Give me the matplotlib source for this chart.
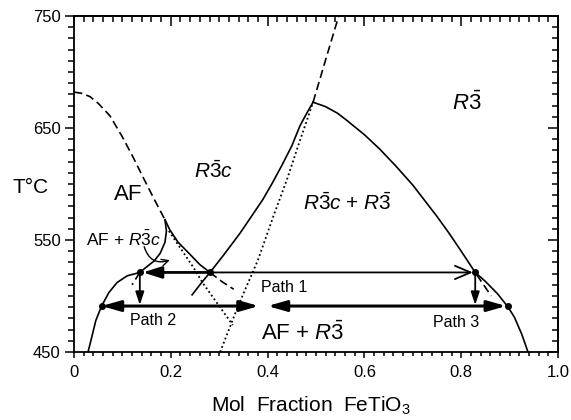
import numpy as np
import matplotlib
matplotlib.use("Agg")
import matplotlib.pyplot as plt
from matplotlib.ticker import MultipleLocator

plt.rcParams["font.family"] = ["Liberation Sans", "DejaVu Sans"]
plt.rcParams["mathtext.fontset"] = "custom"
plt.rcParams["mathtext.rm"] = "Liberation Sans"
plt.rcParams["mathtext.it"] = "Liberation Sans:italic"
plt.rcParams["mathtext.bf"] = "Liberation Sans:bold"

# --- curves (x = mol fraction FeTiO3, T in degC) ---
# AF ordering line: dashed part, solid part, dashed tail
af_dash_x = [0.0, 0.015, 0.033, 0.05, 0.074, 0.10, 0.122, 0.145, 0.165, 0.188]
af_dash_T = [682, 681, 678, 672, 661, 642, 624, 604, 587, 568]
af_solid_x = [0.188, 0.198, 0.215, 0.24, 0.26, 0.281]
af_solid_T = [568, 559, 548, 537, 528, 521]
af_tail_x = [0.281, 0.305, 0.33]
af_tail_T = [521, 513, 506]

# AF + R-3c field boundary and its dashed extension
afr_x = [0.188, 0.191, 0.188, 0.178, 0.165, 0.153, 0.136]
afr_T = [568, 558, 548, 538, 531, 527, 521]
afr_ext_x = [0.136, 0.12]
afr_ext_T = [521, 510]

# left solvus
solv_l_x = [0.029, 0.036, 0.045, 0.057, 0.072, 0.089, 0.11, 0.136]
solv_l_T = [450, 462, 478, 491, 503, 512, 518, 521]

# R-3c + R-3 field, left limb (solid) and ordering line above the peak (dashed)
rr_l_x = [0.244, 0.262, 0.281, 0.31, 0.343, 0.365, 0.39, 0.41, 0.43, 0.45, 0.467, 0.482, 0.494]
rr_l_T = [501, 511, 521, 537, 556, 570, 586, 601, 617, 634, 652, 664, 673]
order_x = [0.494, 0.52, 0.547]
order_T = [673, 711, 750]

# R-3c + R-3 field, right limb (solid), with dashed metastable piece
rr_r_x = [0.494, 0.52, 0.545, 0.563, 0.60, 0.632, 0.665, 0.70, 0.725, 0.75,
          0.775, 0.80, 0.829, 0.85, 0.875, 0.897, 0.91, 0.925, 0.938]
rr_r_T = [673, 669, 663, 657, 644, 631, 616, 599, 585, 571,
          556, 540, 521, 513, 502, 490, 481, 466, 450]
rr_ext_x = [0.832, 0.862]
rr_ext_T = [519, 500]

# dotted lines
dot1_x = [0.302, 0.34, 0.38, 0.411, 0.44, 0.467, 0.494]
dot1_T = [450, 492, 532, 570, 604, 639, 673]
dot2_x = [0.196, 0.246, 0.267, 0.328]
dot2_T = [558, 526, 511, 474]

# marked points
pts_x = [0.136, 0.057, 0.281, 0.829, 0.897]
pts_T = [521, 491, 521, 521, 491]

# paths
T_path1, T_path2 = 521, 491

fig = plt.figure(figsize=(5.71, 4.2), dpi=100)
ax = fig.add_axes([0.1296, 0.162, 0.8476, 0.800])
ax.set_xlim(0, 1.0)
ax.set_ylim(450, 750)

lw = 1.2
dash = (0, (5, 2.6))
dots = (0, (1, 1.5))
ax.plot(af_dash_x, af_dash_T, color="k", lw=lw, ls=dash)
ax.plot(af_solid_x, af_solid_T, color="k", lw=lw)
ax.plot(af_tail_x, af_tail_T, color="k", lw=lw, ls=dash)
ax.plot(afr_x, afr_T, color="k", lw=lw)
ax.plot(afr_ext_x, afr_ext_T, color="k", lw=lw, ls=dash)
ax.plot(solv_l_x, solv_l_T, color="k", lw=lw)
ax.plot(rr_l_x, rr_l_T, color="k", lw=lw)
ax.plot(order_x, order_T, color="k", lw=lw, ls=dash)
ax.plot(rr_r_x, rr_r_T, color="k", lw=lw)
ax.plot(rr_ext_x, rr_ext_T, color="k", lw=lw, ls=dash)
ax.plot(dot1_x, dot1_T, color="k", lw=1.3, ls=dots)
ax.plot(dot2_x, dot2_T, color="k", lw=1.3, ls=dots)
ax.plot(pts_x, pts_T, "o", color="k", ms=4, zorder=5)

def arrow(x0, y0, x1, y1, style="-|>", lw=2.0, ms=14):
    ax.annotate("", xy=(x1, y1), xytext=(x0, y0),
                arrowprops=dict(arrowstyle=style, lw=lw, color="k",
                                mutation_scale=ms, shrinkA=0, shrinkB=0))

filled = "-|>,head_length=0.7,head_width=0.22"
both = "<|-|>,head_length=0.7,head_width=0.2"
# Path 1
arrow(0.281, T_path1, 0.142, T_path1, filled, 2.0, 16)
arrow(0.281, T_path1, 0.824, T_path1, "->,head_length=0.7,head_width=0.3", 1.3, 16)
# vertical drops
arrow(0.136, T_path1, 0.136, T_path2 + 1, "-|>,head_length=0.6,head_width=0.2", 1.3, 13)
arrow(0.829, T_path1, 0.829, T_path2 + 1, "-|>,head_length=0.6,head_width=0.2", 1.3, 13)
# Path 2 and Path 3
arrow(0.057, T_path2, 0.382, T_path2, both, 2.2, 16)
arrow(0.40, T_path2, 0.893, T_path2, both, 2.2, 16)

# curved pointer for AF + R-3c
ax.annotate("", xy=(0.198, 532), xytext=(0.145, 544),
            arrowprops=dict(arrowstyle="->", lw=1.0, color="k",
                            connectionstyle="arc3,rad=0.5", mutation_scale=12,
                            shrinkA=0, shrinkB=0))

# labels
r3c = r"$\mathit{R\bar{3}c}$"
r3 = r"$\mathit{R\bar{3}}$"
ax.text(0.113, 586, "AF", fontsize=16, ha="center", va="baseline")
ax.text(0.289, 605, r3c, fontsize=15, ha="center", va="baseline")
ax.text(0.812, 666, r3, fontsize=16, ha="center", va="baseline")
ax.text(0.565, 577, r3c + " + " + r3, fontsize=15, ha="center", va="baseline")
ax.text(0.103, 545, "AF + " + r3c, fontsize=12.5, ha="center", va="baseline")
ax.text(0.434, 503.5, "Path 1", fontsize=11.5, ha="center", va="baseline")
ax.text(0.164, 474, "Path 2", fontsize=11.5, ha="center", va="baseline")
ax.text(0.79, 472.5, "Path 3", fontsize=11.5, ha="center", va="baseline")
ax.text(0.472, 461, "AF + " + r3, fontsize=16, ha="center", va="baseline")
ax.text(-0.089, 592, "T°C", fontsize=15, ha="center", va="baseline", clip_on=False)
ax.text(0.49, 396.5, "Mol  Fraction  FeTiO$_3$", fontsize=15, ha="center",
        va="baseline", clip_on=False)

# ticks: bottom/left outward, top/right inward
ax.set_xticks(np.arange(0, 1.01, 0.2))
ax.set_xticklabels(["0", "0.2", "0.4", "0.6", "0.8", "1.0"])
ax.set_yticks([450, 550, 650, 750])
ax.xaxis.set_minor_locator(MultipleLocator(0.02))
ax.yaxis.set_minor_locator(MultipleLocator(10))
ax.tick_params(axis="x", which="major", direction="out", length=4.5, width=1.1,
               pad=5, labelsize=12)
ax.tick_params(axis="x", which="minor", direction="out", length=3, width=1.1)
ax.tick_params(axis="y", which="major", direction="out", length=6.5, width=1.1,
               pad=3, labelsize=12)
ax.tick_params(axis="y", which="minor", direction="out", length=4, width=1.1)

top = ax.secondary_xaxis("top")
top.set_xticks(np.arange(0, 1.01, 0.2))
top.xaxis.set_minor_locator(MultipleLocator(0.02))
top.tick_params(which="major", direction="in", length=7, width=1.1, labeltop=False)
top.tick_params(which="minor", direction="in", length=4.5, width=1.1)
right = ax.secondary_yaxis("right")
right.set_yticks([450, 550, 650, 750])
right.yaxis.set_minor_locator(MultipleLocator(10))
right.tick_params(which="major", direction="in", length=7, width=1.1, labelright=False)
right.tick_params(which="minor", direction="in", length=4.5, width=1.1)

for a in (ax, top, right):
    for s in a.spines.values():
        s.set_linewidth(1.3)

fig.savefig("out.png", dpi=100, facecolor="white")
